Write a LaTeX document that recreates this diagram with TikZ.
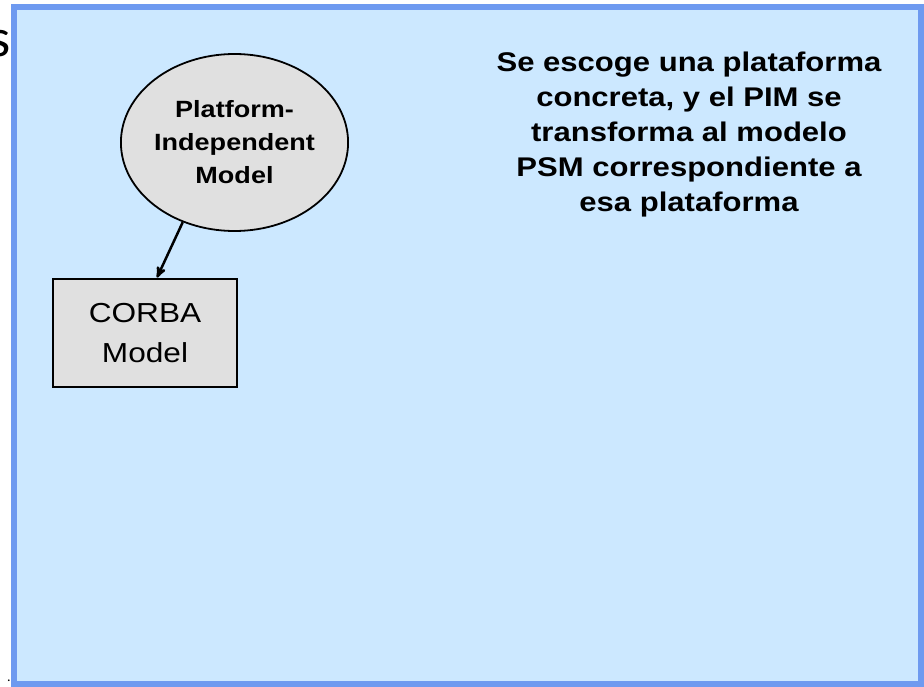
\documentclass[tikz,border=0pt]{standalone}
\usepackage{fontspec}
\setmainfont{Liberation Sans}
\newfontfamily\slidefont[FakeStretch=1.15]{Liberation Sans}
\newfontfamily\titlefont{Carlito}
\usetikzlibrary{%
  arrows,%
  shapes,% wg. ellipse
  positioning%
}
\definecolor{panelblue}{RGB}{204,232,255}
\definecolor{panelframe}{RGB}{110,154,240}
\definecolor{modelgray}{RGB}{224,224,224}

\begin{document}
\begin{tikzpicture}[
  x=1pt, y=-1pt,
  >=stealth',
  line width=2.5pt,
  pimmodel/.style={ellipse, draw=black, fill=modelgray, line width=1.8pt, inner sep=0pt,
    minimum width=191pt, minimum height=177pt, align=center,
    font=\slidefont\bfseries\fontsize{23.5}{33}\selectfont},
  psmmodel/.style={rectangle, draw=black, fill=modelgray, line width=2.8pt, inner sep=0pt,
    minimum width=184pt, minimum height=108pt, align=center,
    font=\slidefont\fontsize{27.5}{40}\selectfont},
  note/.style={align=center, inner sep=0pt, font=\slidefont\bfseries\fontsize{27}{35}\selectfont}]

\useasboundingbox (0,0) rectangle (924,687);

% cut-off title letter and dot behind the panel
\node[anchor=base east, inner sep=0pt, font=\titlefont\fontsize{54}{54}\selectfont] (title) at (12,57) {s};
\node[anchor=base east, inner sep=0pt, font=\titlefont\fontsize{14}{14}\selectfont] (dot) at (12,681) {.};

\draw[draw=panelframe, fill=panelblue, line width=6pt] (14,7) rectangle (921,684);

\node[pimmodel] (pim) at (234.5,142.5) {Platform-\\Independent\\Model};
\node[psmmodel] (corba) at (145,333) {CORBA\\Model};

\draw [->] (pim.237) -- ([xshift=12pt]corba.north);

\node[note] (text) at (689,135) {Se escoge una plataforma\\concreta, y el PIM se\\transforma al modelo\\PSM correspondiente a\\esa plataforma};

\end{tikzpicture}
\end{document}
